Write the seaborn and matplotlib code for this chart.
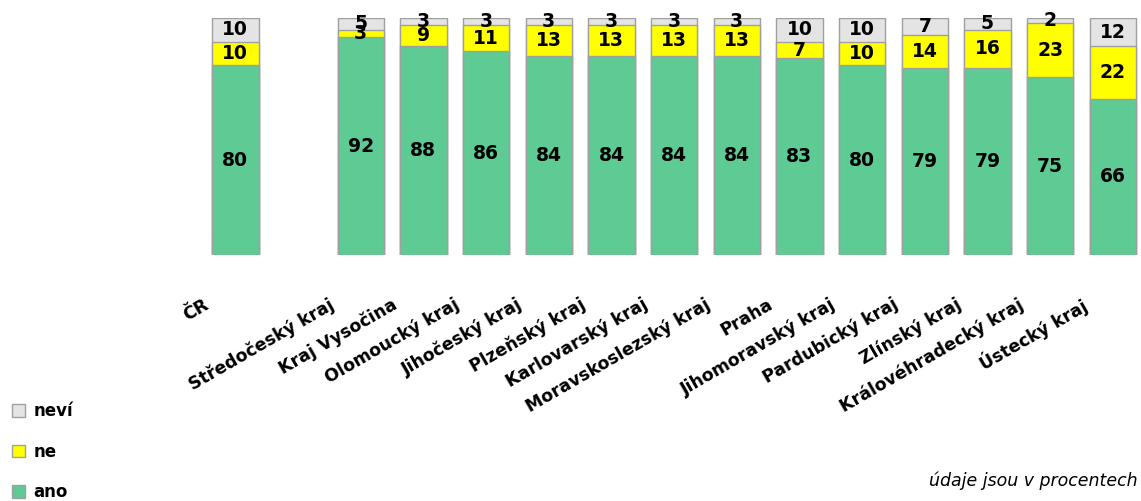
import matplotlib
matplotlib.use("Agg")
import matplotlib.pyplot as plt
import matplotlib.transforms as mtransforms
from matplotlib.patches import Patch
import seaborn as sns
import pandas as pd

categories = ["ČR", "Středočeský kraj", "Kraj Vysočina", "Olomoucký kraj", "Jihočeský kraj",
              "Plzeňský kraj", "Karlovarský kraj", "Moravskoslezský kraj", "Praha",
              "Jihomoravský kraj", "Pardubický kraj", "Zlínský kraj", "Královéhradecký kraj",
              "Ústecký kraj"]
ano = [80, 92, 88, 86, 84, 84, 84, 84, 83, 80, 79, 79, 75, 66]
ne = [10, 3, 9, 11, 13, 13, 13, 13, 7, 10, 14, 16, 23, 22]
nevi = [10, 5, 3, 3, 3, 3, 3, 3, 10, 10, 7, 5, 2, 12]
series_names = ["ano", "ne", "neví"]
note = "údaje jsou v procentech"

col_ano = "#5ECA94"
col_ne = "#FFFF00"
col_nevi = "#E4E4E4"
edge = "#A0A0A0"

sns.set_style("white")
plt.rcParams["font.family"] = ["DejaVu Sans"]
plt.rcParams["text.color"] = "black"
plt.rcParams["xtick.color"] = "black"

df = pd.DataFrame({"cat": categories, "ano": ano, "ne": ne, "nevi": nevi})
df["c_ne"] = df["ano"] + df["ne"]
df["c_all"] = df["c_ne"] + df["nevi"]

gap = " "
order = [categories[0], gap] + categories[1:]

fig = plt.figure(figsize=(11.41, 5.01), dpi=100)
ax = fig.add_axes([0.1788, 0.491, 0.8212, 0.473])

for col, color in [("c_all", col_nevi), ("c_ne", col_ne), ("ano", col_ano)]:
    sns.barplot(data=df, x="cat", y=col, order=order, color=color, width=0.74,
                edgecolor=edge, linewidth=1.0, saturation=1, ax=ax, errorbar=None)

ax.set_xlim(-0.5, len(order) - 1 + 0.45)
ax.set_ylim(0, 100)
ax.set_xlabel("")
ax.set_ylabel("")
ax.set_yticks([])
sns.despine(ax=ax, left=True, bottom=True)

# value labels
for _, r in df.iterrows():
    pos = order.index(r["cat"])
    for y, v in [(r["ano"] / 2, r["ano"]),
                 (r["ano"] + r["ne"] / 2, r["ne"]),
                 (r["c_ne"] + r["nevi"] / 2, r["nevi"])]:
        ax.text(pos, y, f"{v}", ha="center", va="center",
                fontsize=13.5, fontweight="bold", color="black")

# category labels
ax.set_xticks(range(len(order)))
ax.set_xticklabels(order, rotation=30, ha="right", va="top", rotation_mode="anchor",
                   fontsize=12.5, fontweight="bold", color="black")
ax.tick_params(axis="x", length=0, pad=29)
shift = mtransforms.ScaledTranslation(-32 / 100, 0, fig.dpi_scale_trans)
for lbl in ax.get_xticklabels():
    lbl.set_transform(lbl.get_transform() + shift)

# legend
handles = [Patch(facecolor=col_nevi, edgecolor=edge),
           Patch(facecolor=col_ne, edgecolor=edge),
           Patch(facecolor=col_ano, edgecolor=edge)]
leg = fig.legend(handles, [series_names[2], series_names[1], series_names[0]],
                 loc="center left", bbox_to_anchor=(-0.003, 0.098), frameon=False,
                 handlelength=0.8, handleheight=0.8, handletextpad=0.5, labelspacing=1.35,
                 prop={"weight": "bold", "size": 12})
for t in leg.get_texts():
    t.set_color("black")

fig.text(0.997, (501 - 481) / 501, note, ha="right", va="center",
         style="italic", fontsize=12.5, color="black")

fig.savefig("out.png", dpi=100)
